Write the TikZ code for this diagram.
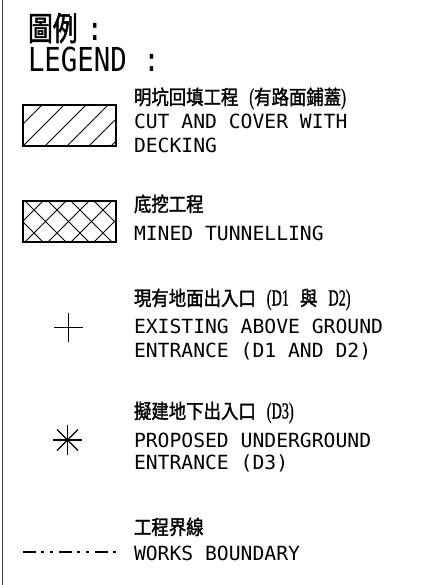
\documentclass[tikz,border=0pt]{standalone}
\usepackage{fontspec}
\newfontfamily\monobody[FakeStretch=1.01]{DejaVu Sans Mono}
\newfontfamily\monotitle[FakeStretch=0.83]{DejaVu Sans Mono}
\newfontfamily\cjkbody[FakeStretch=0.87,FakeBold=1.6]{Noto Sans CJK TC}
\newfontfamily\cjktitle[FakeStretch=0.75,FakeBold=1.6]{Noto Sans CJK TC}
\newfontfamily\latser[FakeStretch=0.62,FakeBold=0.8]{Liberation Serif}
\newcommand{\hd}{\cjkbody\fontsize{20}{22}\selectfont}
\newcommand{\hs}[1]{{\latser\fontsize{23}{24}\selectfont #1}}
\newcommand{\gap}{\hspace{11pt}}
\begin{document}
\begin{tikzpicture}[x=1pt,y=-1pt,
  txt/.style={anchor=base west,inner sep=0pt,outer sep=0pt,font=\monobody\fontsize{19.5}{23.5}\selectfont},
  ttl/.style={anchor=base west,inner sep=0pt,outer sep=0pt,font=\monotitle\fontsize{33}{36}\selectfont},
  hed/.style={anchor=base west,inner sep=0pt,outer sep=0pt,font=\hd},
  symline/.style={line width=1.3pt,black},
  boxline/.style={line width=1.6pt,black},
  hatchline/.style={line width=0.9pt,black}]
\useasboundingbox (0,0) rectangle (430,585);
\fill[white] (0,0) rectangle (430,585);
% left border
\draw[line width=1.8pt,black!75] (2.5,0) -- (2.5,585);
% title
\node[anchor=base west,inner sep=0pt] (titlecn) at (28,40.5) {\cjktitle\fontsize{33}{36}\selectfont 圖例};
\node[ttl] (titlecolon) at (86.5,40.5) {:};
\node[ttl] (titleen) at (28,72) {LEGEND :};
% row 1: cut and cover
\coordinate (b1a) at (23,105);
\coordinate (b1b) at (116,146);
\begin{scope}
\clip (b1a) rectangle (b1b);
\foreach \i in {-2,...,6}{
  \draw[hatchline] (23+\i*22,146) -- ++(41,-41);
}
\end{scope}
\draw[boxline] (b1a) rectangle (b1b);
\node[hed] (h1) at (134,104.5) {明坑回填工程\gap\hs{(}有路面鋪蓋\hs{)}};
\node[txt] (t1a) at (134,129) {CUT AND COVER WITH};
\node[txt] (t1b) at (134,152.5) {DECKING};
% row 2: mined tunnelling
\coordinate (b2a) at (23,201);
\coordinate (b2b) at (116,242);
\begin{scope}
\clip (b2a) rectangle (b2b);
\foreach \i in {-3,...,6}{
  \draw[hatchline] (25+\i*23,242) -- ++(46,-46);
  \draw[hatchline] (25+\i*23,201) -- ++(46,46);
}
\end{scope}
\draw[boxline] (b2a) rectangle (b2b);
\node[hed] (h2) at (134,211.5) {底挖工程};
\node[txt] (t2a) at (134,240) {MINED TUNNELLING};
% row 3: existing entrance
\coordinate (pc) at (68.5,327.5);
\draw[symline] ([xshift=-14.5pt]pc) -- ([xshift=14.5pt]pc);
\draw[symline] ([yshift=-14.5pt]pc) -- ([yshift=14.5pt]pc);
\node[hed] (h3) at (134,305.5) {現有地面出入口\gap\hs{(D1}\gap 與\gap\hs{D2)}};
\node[txt] (t3a) at (134,333) {EXISTING ABOVE GROUND};
\node[txt] (t3b) at (134,357) {ENTRANCE (D1 AND D2)};
% row 4: proposed entrance
\coordinate (ac) at (67.5,440);
\draw[symline] ([xshift=-14.5pt]ac) -- ([xshift=14.5pt]ac);
\draw[symline] ([yshift=-15pt]ac) -- ([yshift=15pt]ac);
\draw[symline] ([shift={(-10.5pt,-10.5pt)}]ac) -- ([shift={(10.5pt,10.5pt)}]ac);
\draw[symline] ([shift={(-10.5pt,10.5pt)}]ac) -- ([shift={(10.5pt,-10.5pt)}]ac);
\node[hed] (h4) at (134,418.5) {擬建地下出入口\gap\hs{(D3)}};
\node[txt] (t4a) at (134,447) {PROPOSED UNDERGROUND};
\node[txt] (t4b) at (134,469.5) {ENTRANCE (D3)};
% row 5: works boundary
\coordinate (wb1) at (23,552);
\coordinate (wb2) at (116,552);
\draw[line width=1.5pt,dash pattern=on 13pt off 5pt on 3pt off 6pt on 3pt off 6pt] (wb1) -- (wb2);
\node[hed] (h5) at (134,534.5) {工程界線};
\node[txt] (t5a) at (134,560) {WORKS BOUNDARY};
\end{tikzpicture}
\end{document}
